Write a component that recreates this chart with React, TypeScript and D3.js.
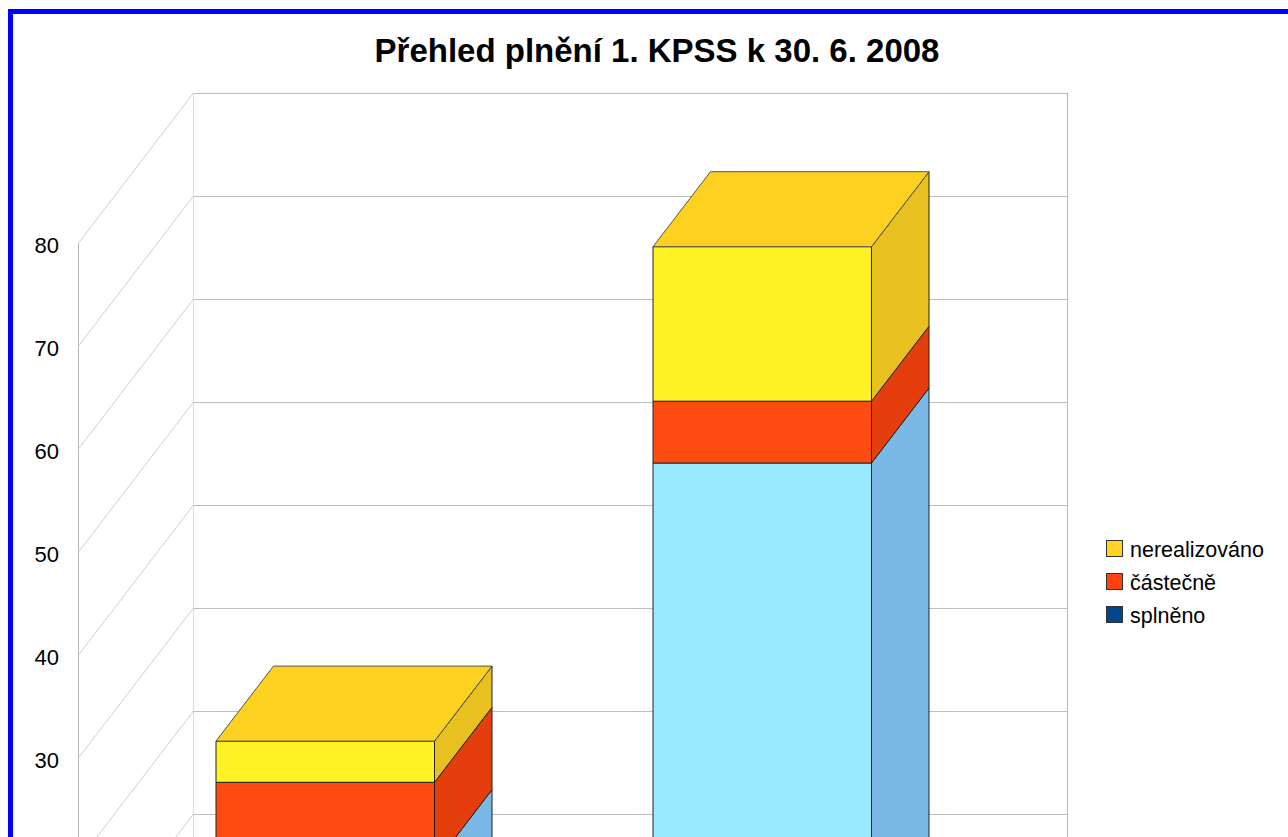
import * as d3 from "d3";
import React from "react";

// data
const categories = ["A", "B"];
const seriesNames = ["splněno", "částečně", "nerealizováno"];
const splneno = [16, 55];
const castecne = [8, 6];
const nerealizovano = [4, 15];
const yTicks = [0, 10, 20, 30, 40, 50, 60, 70, 80];

const frontColors = ["#99eaff", "#fe4c10", "#fef224"];
const sideColors = ["#79b8e7", "#e53e0d", "#e8c020"];
const topColors = ["#8fd6f0", "#f0480f", "#fdd11f"];
const legendColors = ["#004586", "#ff420e", "#ffd320"];

const W = 1288;
const H = 837;
const DX = 115; // full depth offset
const DY = -150;
const Z0 = 0.25;
const Z1 = 0.75;
const font = "'Liberation Sans', Arial, sans-serif";

const App = () => {
  const y = d3.scaleLinear([0, 80], [1067, 243]);
  const x = d3
    .scaleBand(categories, [78, 952])
    .paddingInner(0.5)
    .paddingOuter(0.25);

  const rows = categories.map((c, i) => ({
    cat: c,
    splněno: splneno[i],
    částečně: castecne[i],
    nerealizováno: nerealizovano[i],
  }));
  const stacked = d3.stack<any>().keys(seriesNames)(rows);

  const P = (px: number, v: number, z: number): [number, number] => [
    px + z * DX,
    y(v) + z * DY,
  ];
  const poly = (pts: [number, number][]) =>
    pts.map((p) => p.join(",")).join(" ");

  const x0 = 78;
  const x1 = 952;

  return (
    <svg
      width={W}
      height={H}
      style={{ position: "fixed", left: 0, top: 0, background: "#fff" }}
      fontFamily={font}
    >
      <rect x={0} y={0} width={W} height={H} fill="#fff" />

      {/* back wall grid */}
      <g shapeRendering="crispEdges">
        {yTicks.map((t) => {
          const [ax, ay] = P(x0, t, 1);
          const [bx] = P(x1, t, 1);
          return (
            <line
              key={"b" + t}
              x1={ax}
              x2={bx}
              y1={ay + 0.5}
              y2={ay + 0.5}
              stroke="#bdbdbd"
              strokeWidth={1}
            />
          );
        })}
        <line
          x1={P(x0, 80, 1)[0] + 0.5}
          x2={P(x0, 80, 1)[0] + 0.5}
          y1={P(x0, 80, 1)[1]}
          y2={P(x0, 0, 1)[1]}
          stroke="#dcdcdc"
        />
        <line
          x1={P(x1, 80, 1)[0] + 0.5}
          x2={P(x1, 80, 1)[0] + 0.5}
          y1={P(x1, 80, 1)[1]}
          y2={P(x1, 0, 1)[1]}
          stroke="#b8b8b8"
        />
        <line x1={x0 + 0.5} x2={x0 + 0.5} y1={y(80)} y2={y(0)} stroke="#b8b8b8" />
      </g>
      {/* side wall grid */}
      {yTicks.map((t) => {
        const [ax, ay] = P(x0, t, 0);
        const [bx, by] = P(x0, t, 1);
        return (
          <line
            key={"s" + t}
            x1={ax + 0.5}
            y1={ay}
            x2={bx + 0.5}
            y2={by}
            stroke="#d0d0d0"
            strokeWidth={1}
          />
        );
      })}

      {/* y labels */}
      {yTicks
        .filter((t) => y(t) < H - 14)
        .map((t) => (
          <text
            key={"l" + t}
            x={59}
            y={y(t) + 2}
            dy="0.35em"
            textAnchor="end"
            fontSize={22}
            fill="#000"
          >
            {t}
          </text>
        ))}

      {/* bars */}
      {categories.map((c, i) => {
        const bx0 = x(c)!;
        const bx1 = bx0 + x.bandwidth();
        return (
          <g key={c} stroke="#222" strokeWidth={1} strokeLinejoin="round">
            {stacked.map((s, k) => {
              const [lo, hi] = s[i] as unknown as [number, number];
              const front = [P(bx0, lo, Z0), P(bx1, lo, Z0), P(bx1, hi, Z0), P(bx0, hi, Z0)];
              const side = [P(bx1, lo, Z0), P(bx1, lo, Z1), P(bx1, hi, Z1), P(bx1, hi, Z0)];
              const top = [P(bx0, hi, Z0), P(bx1, hi, Z0), P(bx1, hi, Z1), P(bx0, hi, Z1)];
              return (
                <g key={k}>
                  <polygon points={poly(front)} fill={frontColors[k]} />
                  <polygon points={poly(side)} fill={sideColors[k]} />
                  {k === stacked.length - 1 && (
                    <polygon points={poly(top)} fill={topColors[k]} stroke="#555" />
                  )}
                </g>
              );
            })}
          </g>
        );
      })}

      {/* title */}
      <text
        x={657}
        y={62}
        textAnchor="middle"
        fontSize={33}
        fontWeight="bold"
        fill="#000"
      >
        Přehled plnění 1. KPSS k 30. 6. 2008
      </text>

      {/* legend */}
      {[2, 1, 0].map((k, j) => (
        <g key={k} transform={`translate(1106,${540 + j * 33})`}>
          <rect
            x={0.5}
            y={0.5}
            width={16}
            height={16}
            fill={legendColors[k]}
            stroke="#333"
          />
          <text x={24} y={9} dy="0.35em" fontSize={21.5} fill="#000">
            {seriesNames[k]}
          </text>
        </g>
      ))}

      {/* frame */}
      <path d="M10.5,1000 V11.5 H2000" fill="none" stroke="#0000ff" strokeWidth={5} />
    </svg>
  );
};

export default App;
